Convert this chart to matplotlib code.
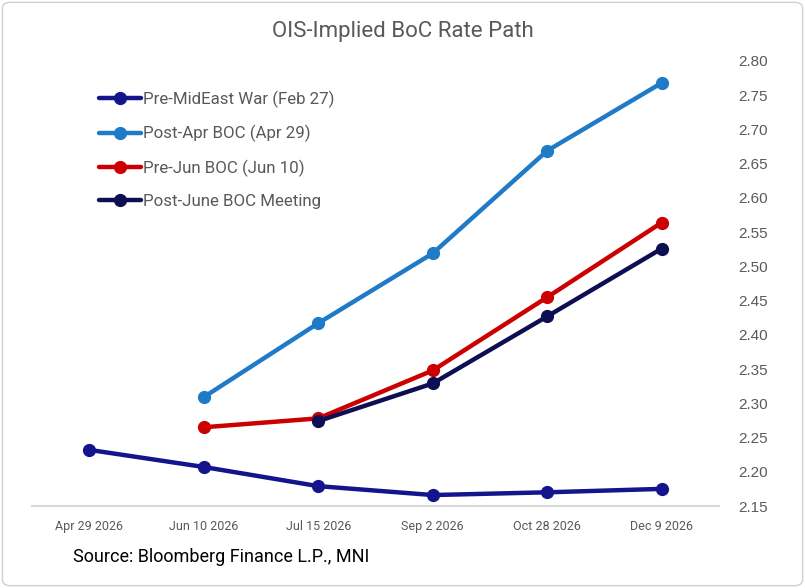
import matplotlib
matplotlib.use("Agg")
import matplotlib.pyplot as plt
from matplotlib.patches import FancyBboxPatch
import numpy as np

categories = ["Apr 29 2026", "Jun 10 2026", "Jul 15 2026", "Sep 2 2026", "Oct 28 2026", "Dec 9 2026"]
pre_mideast = [2.232, 2.207, 2.179, 2.166, 2.170, 2.175]
post_apr = [None, 2.309, 2.417, 2.519, 2.669, 2.768]
pre_jun = [None, 2.265, 2.278, 2.348, 2.455, 2.564]
post_june = [None, None, 2.274, 2.329, 2.427, 2.526]

series = [
    ("Pre-MidEast War (Feb 27)", pre_mideast, "#14148C"),
    ("Post-Apr BOC (Apr 29)", post_apr, "#1F7BC8"),
    ("Pre-Jun BOC (Jun 10)", pre_jun, "#CC0000"),
    ("Post-June BOC Meeting", post_june, "#0E0E52"),
]
yticks = [2.15, 2.20, 2.25, 2.30, 2.35, 2.40, 2.45, 2.50, 2.55, 2.60, 2.65, 2.70, 2.75, 2.80]

fig = plt.figure(figsize=(8.05, 5.88), dpi=100)
fig.patch.set_facecolor("white")
border = FancyBboxPatch((0.003, 0.004), 0.994, 0.992, boxstyle="round,pad=0,rounding_size=0.01",
                        transform=fig.transFigure, fill=False, edgecolor="#D0D0D0", linewidth=1)
fig.add_artist(border)

ax = fig.add_axes([32/805, (588-506)/588, (719-32)/805, (506-61)/588])
x = np.arange(len(categories))
for label, vals, color in series:
    xs = [xi for xi, v in zip(x, vals) if v is not None]
    ys = [v for v in vals if v is not None]
    ax.plot(xs, ys, color=color, linewidth=3.2, marker="o", markersize=8.5, label=label,
            solid_capstyle="round")

ax.set_xlim(-0.5, len(categories) - 0.5)
ax.set_ylim(2.15, 2.80)
ax.set_xticks(x)
ax.set_xticklabels(categories, fontsize=9, color="#595959", family="Roboto")
ax.set_yticks(yticks)
ax.set_yticklabels([f"{v:.2f}" for v in yticks], fontsize=11, color="#595959", family="Liberation Sans")
ax.yaxis.tick_right()
ax.tick_params(axis="y", length=0, pad=14)
ax.tick_params(axis="x", length=0, pad=10)
for s in ["top", "left", "right"]:
    ax.spines[s].set_visible(False)
ax.spines["bottom"].set_color("#D9D9D9")
ax.spines["bottom"].set_linewidth(1.5)

leg = ax.legend(loc="upper left", bbox_to_anchor=(0.075, 0.968), frameon=False,
                prop={"family": "Roboto", "size": 12.2}, labelspacing=1.02,
                handlelength=2.5, handletextpad=0.1, labelcolor="#595959")

fig.text(0.5, 1 - 32/588, "OIS-Implied BoC Rate Path", ha="center", va="center",
         fontsize=16, color="#595959", family="Roboto")
fig.text(73/805, 1 - 557/588, "Source: Bloomberg Finance L.P., MNI", ha="left", va="center",
         fontsize=13, color="#000000", family="Roboto")

fig.savefig("out.png", dpi=100)
